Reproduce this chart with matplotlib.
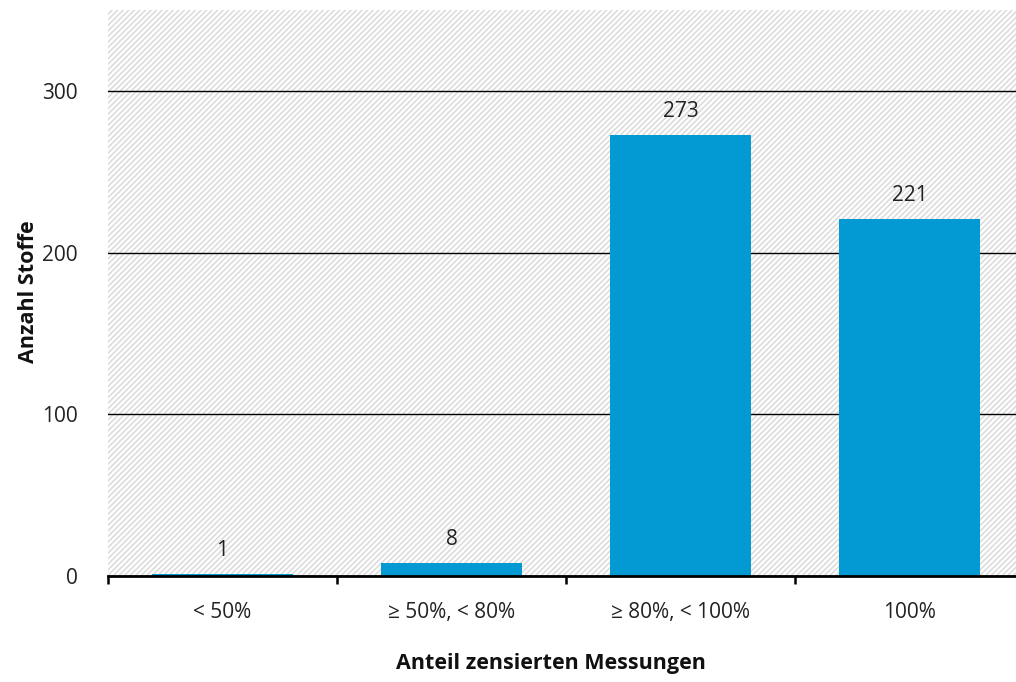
import matplotlib
matplotlib.use("Agg")
import matplotlib.pyplot as plt
from matplotlib.patches import Rectangle

categories = ["< 50%", "≥ 50%, < 80%", "≥ 80%, < 100%", "100%"]
counts = [1, 8, 273, 221]
y_ticks = [0, 100, 200, 300]

plt.rcParams['font.family'] = ['Open Sans', 'DejaVu Sans']
plt.rcParams['hatch.linewidth'] = 1.2

fig = plt.figure(figsize=(10.16, 6.82), dpi=100)
ax = fig.add_axes([108 / 1016, 106 / 682, 916 / 1016, 566 / 682])

# hatched plot background
ax.patch.set_facecolor('white')
ax.add_patch(Rectangle((0, 0), 1, 1, transform=ax.transAxes, facecolor='white',
                       edgecolor='#dcdcdc', hatch='//////', linewidth=0, zorder=0))

x = list(range(len(categories)))
bars = ax.bar(x, counts, width=0.62, color='#0399d3', zorder=3)

for xi, v in zip(x, counts):
    ax.text(xi, v + 8, str(v), ha='center', va='bottom', fontsize=15, color='#222222', zorder=4)

ax.set_xlim(-0.5, 3.5)
ax.set_ylim(0, 350)

ax.set_yticks(y_ticks)
ax.set_yticklabels([str(t) for t in y_ticks], fontsize=15, color='#222222')
ax.tick_params(axis='y', length=0, pad=22)
ax.yaxis.grid(True, color='black', linewidth=1.0, zorder=1)
ax.set_axisbelow(False)
for gl in ax.get_ygridlines():
    gl.set_zorder(1)

ax.set_xticks([-0.5, 0.5, 1.5, 2.5, 3.5])
ax.set_xticklabels([])
ax.tick_params(axis='x', which='major', length=6, width=1.8, color='black', direction='out')
ax.set_xticks(x, minor=True)
ax.set_xticklabels(categories, minor=True, fontsize=15, color='#222222')
ax.tick_params(axis='x', which='minor', length=0, pad=19)

for side in ['left', 'right', 'top']:
    ax.spines[side].set_visible(False)
ax.spines['bottom'].set_linewidth(2)
ax.spines['bottom'].set_color('black')
ax.spines['bottom'].set_zorder(5)

fig.text(28 / 1016, 1 - 292 / 682, "Anzahl Stoffe", rotation=90, ha='center', va='center',
         fontsize=15.5, fontweight='bold', color='#111111')
fig.text(551 / 1016, 1 - 663 / 682, "Anteil zensierten Messungen", ha='center', va='center',
         fontsize=15.5, fontweight='bold', color='#111111')

fig.savefig("out.png", dpi=100)
